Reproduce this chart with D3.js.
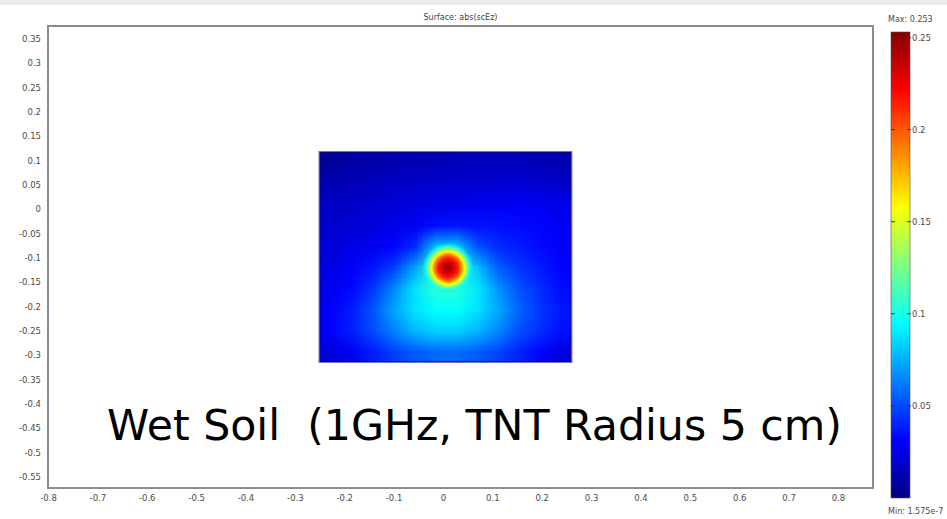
<!DOCTYPE html>
<html>
<head>
<meta charset="utf-8">
<script src="https://cdn.jsdelivr.net/npm/d3@7"></script>
<style>
  body { margin: 0; background: #fff; }
  svg { display: block; font-family: "DejaVu Sans", Verdana, sans-serif; }
</style>
</head>
<body>
<svg width="947" height="519"></svg>
<script>
// tick labels
var xTicks = [-0.8, -0.7, -0.6, -0.5, -0.4, -0.3, -0.2, -0.1, 0, 0.1, 0.2, 0.3, 0.4, 0.5, 0.6, 0.7, 0.8];
var yTicks = [0.35, 0.3, 0.25, 0.2, 0.15, 0.1, 0.05, 0, -0.05, -0.1, -0.15, -0.2, -0.25, -0.3, -0.35, -0.4, -0.45, -0.5, -0.55];
var cbarTicks = [0.05, 0.1, 0.15, 0.2, 0.25];
var fieldMax = 0.253, fieldMin = 1.575e-7;

// soil block extent (m)
var surfX = [-0.25, 0.26];
var surfY = [-0.314, 0.117];

// |scEz|, 12 columns x 10 rows, top row first
var fieldGrid = [
  [0.006, 0.009, 0.011, 0.012, 0.013, 0.014, 0.015, 0.015, 0.015, 0.015, 0.014, 0.012],
  [0.013, 0.015, 0.016, 0.018, 0.019, 0.020, 0.020, 0.021, 0.021, 0.021, 0.020, 0.018],
  [0.017, 0.018, 0.020, 0.022, 0.024, 0.025, 0.026, 0.028, 0.029, 0.030, 0.029, 0.026],
  [0.020, 0.021, 0.023, 0.026, 0.029, 0.035, 0.037, 0.036, 0.035, 0.034, 0.032, 0.029],
  [0.022, 0.025, 0.028, 0.032, 0.042, 0.080, 0.082, 0.052, 0.042, 0.038, 0.034, 0.030],
  [0.025, 0.030, 0.036, 0.047, 0.072, 0.110, 0.110, 0.080, 0.055, 0.045, 0.038, 0.032],
  [0.027, 0.033, 0.045, 0.065, 0.088, 0.105, 0.105, 0.090, 0.068, 0.052, 0.042, 0.034],
  [0.030, 0.038, 0.052, 0.072, 0.088, 0.095, 0.095, 0.088, 0.073, 0.056, 0.045, 0.037],
  [0.031, 0.039, 0.050, 0.064, 0.077, 0.084, 0.084, 0.077, 0.065, 0.051, 0.043, 0.035],
  [0.022, 0.029, 0.038, 0.047, 0.054, 0.058, 0.058, 0.055, 0.048, 0.040, 0.032, 0.023]
];

// TNT hot spot: centre and radial profile
var spotCenter = [0.01, -0.121];
var spotRadius = [0, 0.010, 0.020, 0.027, 0.033, 0.039, 0.045, 0.052];
var spotValue  = [0.248, 0.234, 0.215, 0.190, 0.158, 0.127, 0.100, 0.090];

var svg = d3.select("svg"),
    width = +svg.attr("width"),
    height = +svg.attr("height");

var plot = {left: 48, right: 873, top: 26, bottom: 488};

var x = d3.scaleLinear().domain([-0.8, 0.871]).range([plot.left, plot.right]);
var y = d3.scaleLinear().domain([-0.573, 0.376]).range([plot.bottom, plot.top]);

function jet(t) {
  var c = function(v) { return Math.max(0, Math.min(1, v)); };
  return d3.rgb(255 * c(1.5 - Math.abs(4 * t - 3)),
                255 * c(1.5 - Math.abs(4 * t - 2)),
                255 * c(1.5 - Math.abs(4 * t - 1))).toString();
}
var color = d3.scaleSequential(jet).domain([0, fieldMax]);

var fmt = function(d) { return String(+d.toFixed(2)); };
var defs = svg.append("defs");

// top band
svg.append("rect").attr("x", 0).attr("y", 0).attr("width", width).attr("height", 5).attr("fill", "#ebebeb");

// plot frame
svg.append("rect")
    .attr("x", plot.left).attr("y", plot.top)
    .attr("width", plot.right - plot.left).attr("height", plot.bottom - plot.top)
    .attr("fill", "#fff").attr("stroke", "#8c8c8c").attr("stroke-width", 2);

svg.append("text")
    .attr("x", (plot.left + plot.right) / 2).attr("y", 20)
    .attr("text-anchor", "middle").attr("font-size", 8).attr("fill", "#444")
    .text("Surface: abs(scEz)");

// field surface: grid -> small canvas -> smoothed image
var rows = fieldGrid.length, cols = fieldGrid[0].length;
var cnv = document.createElement("canvas");
cnv.width = cols; cnv.height = rows;
var ctx = cnv.getContext("2d");
fieldGrid.forEach(function(row, j) {
  row.forEach(function(v, i) {
    ctx.fillStyle = color(v);
    ctx.fillRect(i, j, 1, 1);
  });
});

defs.append("clipPath").attr("id", "surfClip").append("rect")
    .attr("x", x(surfX[0])).attr("y", y(surfY[1]))
    .attr("width", x(surfX[1]) - x(surfX[0])).attr("height", y(surfY[0]) - y(surfY[1]));

var surf = svg.append("g").attr("clip-path", "url(#surfClip)");
surf.append("image")
    .attr("href", cnv.toDataURL())
    .attr("x", x(surfX[0])).attr("y", y(surfY[1]))
    .attr("width", x(surfX[1]) - x(surfX[0])).attr("height", y(surfY[0]) - y(surfY[1]))
    .attr("preserveAspectRatio", "none")
    .style("image-rendering", "auto");

// hot spot
var rMax = spotRadius[spotRadius.length - 1];
var grad = defs.append("radialGradient").attr("id", "spot");
grad.selectAll("stop")
  .data(spotRadius)
  .enter().append("stop")
    .attr("offset", function(d) { return d / rMax; })
    .attr("stop-color", function(d, i) { return color(spotValue[i]); })
    .attr("stop-opacity", function(d, i) {
      var n = spotRadius.length;
      return i === n - 1 ? 0 : (i === n - 2 ? 0.75 : 1);
    });

surf.append("circle")
    .attr("cx", x(spotCenter[0])).attr("cy", y(spotCenter[1]))
    .attr("r", x(spotCenter[0] + rMax) - x(spotCenter[0]))
    .attr("fill", "url(#spot)");

svg.append("rect")
    .attr("x", x(surfX[0])).attr("y", y(surfY[1]))
    .attr("width", x(surfX[1]) - x(surfX[0])).attr("height", y(surfY[0]) - y(surfY[1]))
    .attr("fill", "none").attr("stroke", "#000070").attr("stroke-opacity", 0.6).attr("stroke-width", 2);

// axes
var xAxis = svg.append("g")
    .attr("transform", "translate(0," + plot.bottom + ")")
    .call(d3.axisBottom(x).tickValues(xTicks).tickFormat(fmt).tickSize(0).tickPadding(7));
var yAxis = svg.append("g")
    .attr("transform", "translate(" + plot.left + ",0)")
    .call(d3.axisLeft(y).tickValues(yTicks).tickFormat(fmt).tickSize(0).tickPadding(7));
[xAxis, yAxis].forEach(function(a) {
  a.select(".domain").remove();
  a.selectAll("text").attr("font-family", "DejaVu Sans, Verdana, sans-serif")
      .attr("font-size", 8.5).attr("fill", "#4a4a4a");
});

// big caption
svg.append("text")
    .attr("x", 107).attr("y", 440)
    .attr("font-size", 43).attr("fill", "#000")
    .attr("textLength", 735).attr("lengthAdjust", "spacingAndGlyphs")
    .style("white-space", "pre")
    .text("Wet Soil  (1GHz, TNT Radius 5 cm)");

// colour bar
var cy = d3.scaleLinear().domain([0, fieldMax]).range([498, 32]);
var cbX = 891, cbW = 19;
var cgrad = defs.append("linearGradient").attr("id", "cbar")
    .attr("x1", 0).attr("y1", 1).attr("x2", 0).attr("y2", 0);
cgrad.selectAll("stop")
  .data(d3.range(0, 9))
  .enter().append("stop")
    .attr("offset", function(d) { return d / 8; })
    .attr("stop-color", function(d) { return jet(d / 8); });

svg.append("rect")
    .attr("x", cbX).attr("y", cy(fieldMax))
    .attr("width", cbW).attr("height", cy(0) - cy(fieldMax))
    .attr("fill", "url(#cbar)").attr("stroke", "#555").attr("stroke-width", 0.6);

var ct = svg.append("g").selectAll("g")
  .data(cbarTicks)
  .enter().append("g")
    .attr("transform", function(d) { return "translate(0," + cy(d) + ")"; });
ct.append("line").attr("x1", cbX).attr("x2", cbX + 4).attr("stroke", "#333");
ct.append("line").attr("x1", cbX + cbW - 3).attr("x2", cbX + cbW + 1).attr("stroke", "#333");
ct.append("text")
    .attr("x", cbX + cbW + 2).attr("dy", "0.35em")
    .attr("font-size", 8.5).attr("fill", "#4a4a4a")
    .text(fmt);

svg.append("text").attr("x", 888).attr("y", 22)
    .attr("font-size", 8).attr("fill", "#4a4a4a")
    .text("Max: " + fieldMax);
svg.append("text").attr("x", 888).attr("y", 514)
    .attr("font-size", 8).attr("fill", "#4a4a4a")
    .text("Min: " + fieldMin.toExponential(3).replace("e-", "e-"));
</script>
</body>
</html>
